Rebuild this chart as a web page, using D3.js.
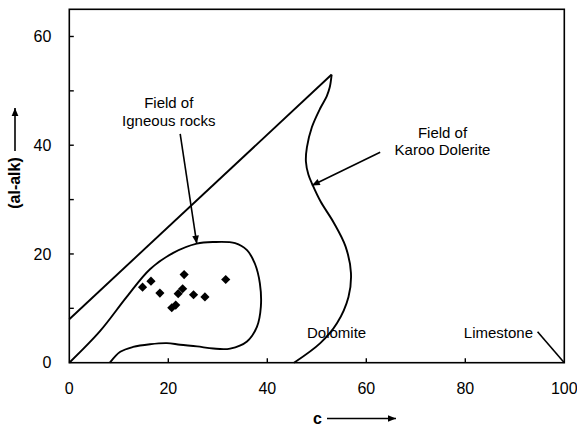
<!DOCTYPE html>
<html>
<head>
<meta charset="utf-8">
<script src="https://cdn.jsdelivr.net/npm/d3@7"></script>
<style>
  body { margin: 0; background: #fff; }
  svg { display: block; }
  text { font-family: "Liberation Sans", Arial, sans-serif; fill: #000; }
</style>
</head>
<body>
<div id="chart"></div>
<script>
// Axis ticks
const xTickLabels = [0, 20, 40, 60, 80, 100];
const yTickLabels = [0, 20, 40, 60];
const yMinorTicks = [10, 20, 30, 40, 50, 60];
const xMinorTicks = [20, 40, 60, 80];

// Sample compositions: c and (al-alk)
const sampleC      = [14.8, 16.5, 18.3, 23.2, 22.0, 22.9, 25.1, 27.4, 20.7, 21.5, 31.6];
const sampleAlAlk  = [13.9, 15.0, 12.8, 16.2, 12.7, 13.6, 12.5, 12.1, 10.1, 10.6, 15.3];

// Field boundaries as [c, al-alk]
const upperBoundary = [[0, 8], [53, 53]];
const karooField = [
  [53, 53], [52.6, 50.6], [52.0, 49.0], [50.7, 46.8], [49.0, 43.3], [48.0, 39.6],
  [47.8, 37.0], [48.3, 34.6], [49.1, 32.8], [50.8, 29.6], [53.4, 25.8], [55.8, 21.4],
  [56.9, 16.5], [56.4, 12.1], [54.1, 7.3], [50.7, 3.6], [45.4, 0]
];
const igneousField = [
  [0, 0], [6.2, 5.8], [11.6, 12.1], [16.3, 17.2], [21.0, 20.2], [25.75, 21.9],
  [29.1, 22.2], [33.5, 22.0], [35.9, 20.7], [37.5, 18.2], [38.5, 14.6], [38.7, 10.3],
  [37.9, 6.6], [35.9, 3.9], [32.5, 2.6], [29.1, 2.6], [25.8, 3.0], [22.4, 3.3],
  [19.7, 3.6], [16.3, 3.4], [12.9, 2.9], [10.3, 2.0], [8.2, 0]
];
const limestoneLeader = [[94.6, 5.7], [100, 0]];

// Labels and pointer arrows, in data units
const igneousLabel = ["Field of", "Igneous rocks"];
const igneousLabelPos = [20.1, 46.8];
const igneousArrow = [[22.4, 42.1], [25.75, 21.9]];
const karooLabel = ["Field of", "Karoo Dolerite"];
const karooLabelPos = [75.4, 41.4];
const karooArrow = [[62.8, 38.7], [49.0, 32.6]];
const endMemberLabels = ["Dolomite", "Limestone"];
const endMemberPos = [[54.0, 4.6], [86.7, 4.6]];

const W = 577, H = 428;
const margin = { left: 69.3, right: 12.7, top: 9.3, bottom: 65.3 };

const x = d3.scaleLinear().domain([0, 100]).range([margin.left, W - margin.right]);
const y = d3.scaleLinear().domain([0, 65]).range([H - margin.bottom, margin.top]);

const svg = d3.select("#chart").append("svg").attr("width", W).attr("height", H);

const defs = svg.append("defs");
defs.append("marker")
  .attr("id", "head")
  .attr("viewBox", "0 0 10 10")
  .attr("refX", 10).attr("refY", 5)
  .attr("markerUnits", "userSpaceOnUse")
  .attr("markerWidth", 9).attr("markerHeight", 8)
  .attr("orient", "auto")
  .append("path").attr("d", "M0,0.8 L10,5 L0,9.2 Z").attr("fill", "#000");

// Frame
svg.append("rect")
  .attr("x", x(0)).attr("y", y(65))
  .attr("width", x(100) - x(0)).attr("height", y(0) - y(65))
  .attr("fill", "none").attr("stroke", "#000").attr("stroke-width", 1.6);

// Inward ticks
svg.append("g").selectAll("line").data(yMinorTicks).join("line")
  .attr("x1", x(0)).attr("x2", x(0) + 4.5)
  .attr("y1", d => y(d)).attr("y2", d => y(d))
  .attr("stroke", "#000").attr("stroke-width", 1.4);
svg.append("g").selectAll("line").data(xMinorTicks).join("line")
  .attr("x1", d => x(d)).attr("x2", d => x(d))
  .attr("y1", y(0)).attr("y2", y(0) - 4.5)
  .attr("stroke", "#000").attr("stroke-width", 1.4);

// Tick labels
svg.append("g").selectAll("text").data(yTickLabels).join("text")
  .attr("x", x(0) - 18).attr("y", d => y(d))
  .attr("dy", "0.36em")
  .attr("text-anchor", "end")
  .style("font-size", "16px")
  .text(d => d);
svg.append("g").selectAll("text").data(xTickLabels).join("text")
  .attr("x", d => x(d)).attr("y", y(0) + 31.6)
  .attr("text-anchor", "middle")
  .style("font-size", "16px")
  .text(d => d);

// Axis titles with arrows
svg.append("text")
  .attr("transform", "translate(20,183) rotate(-90)")
  .attr("text-anchor", "middle")
  .style("font-size", "16px").style("font-weight", "bold")
  .text("(al-alk)");
svg.append("line")
  .attr("x1", 15).attr("x2", 15).attr("y1", 151).attr("y2", 108)
  .attr("stroke", "#000").attr("stroke-width", 1.6)
  .attr("marker-end", "url(#head)");
svg.append("text")
  .attr("x", 313).attr("y", 424)
  .style("font-size", "16px").style("font-weight", "bold")
  .text("c");
svg.append("line")
  .attr("x1", 327).attr("x2", 396).attr("y1", 418.5).attr("y2", 418.5)
  .attr("stroke", "#000").attr("stroke-width", 1.6)
  .attr("marker-end", "url(#head)");

// Field boundaries
const straight = d3.line().x(d => x(d[0])).y(d => y(d[1]));
const smooth = d3.line().x(d => x(d[0])).y(d => y(d[1])).curve(d3.curveCatmullRom.alpha(0.5));

const curves = svg.append("g").attr("fill", "none").attr("stroke", "#000")
  .attr("stroke-width", 1.9).attr("stroke-linejoin", "round");
curves.append("path").attr("d", straight(upperBoundary));
curves.append("path").attr("d", smooth(karooField));
curves.append("path").attr("d", smooth(igneousField));
curves.append("path").attr("d", straight(limestoneLeader)).attr("stroke-width", 1.6);

// Samples
const diamond = d3.symbol().type(d3.symbolSquare).size(42);
svg.append("g").selectAll("path").data(sampleC.map((c, i) => [c, sampleAlAlk[i]])).join("path")
  .attr("d", diamond)
  .attr("transform", d => `translate(${x(d[0])},${y(d[1])}) rotate(45)`)
  .attr("fill", "#000");

// Annotations
function labelBlock(lines, pos) {
  svg.append("g").selectAll("text").data(lines).join("text")
    .attr("x", x(pos[0]))
    .attr("y", (d, i) => y(pos[1]) + i * 17.3)
    .attr("text-anchor", "middle")
    .style("font-size", "15px")
    .text(d => d);
}
labelBlock(igneousLabel, igneousLabelPos);
labelBlock(karooLabel, karooLabelPos);

[igneousArrow, karooArrow].forEach(a => {
  svg.append("line")
    .attr("x1", x(a[0][0])).attr("y1", y(a[0][1]))
    .attr("x2", x(a[1][0])).attr("y2", y(a[1][1]))
    .attr("stroke", "#000").attr("stroke-width", 1.6)
    .attr("marker-end", "url(#head)");
});

svg.append("g").selectAll("text").data(endMemberLabels).join("text")
  .attr("x", (d, i) => x(endMemberPos[i][0]))
  .attr("y", (d, i) => y(endMemberPos[i][1]))
  .attr("text-anchor", "middle")
  .style("font-size", "15px")
  .text(d => d);
</script>
</body>
</html>
